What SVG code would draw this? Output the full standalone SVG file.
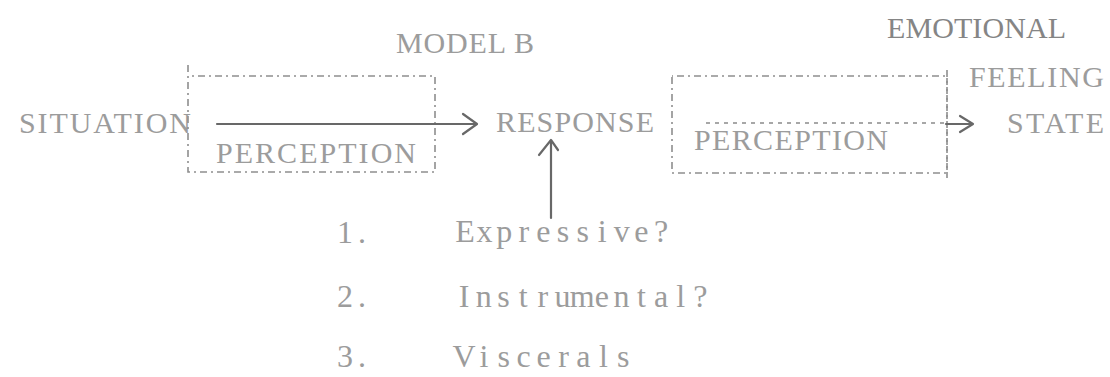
<svg xmlns="http://www.w3.org/2000/svg" width="1110" height="377" viewBox="0 0 1110 377">
  <defs>
    <style>
      .tw { font-family: "Liberation Serif", "DejaVu Serif", serif; font-size: 30px; fill: #9c9c9c; }
      .lc { font-size: 32px; }
      .dark { fill: #858585; }
      .box { fill: none; stroke: #8e8e8e; stroke-width: 1.6; stroke-dasharray: 7 4 2 4; }
      .edge { fill: none; stroke: #686868; stroke-width: 2.2; stroke-linecap: round; stroke-linejoin: round; }
      .dash { fill: none; stroke: #8a8a8a; stroke-width: 1.6; stroke-dasharray: 4 5; }
    </style>
  </defs>
  <rect width="1110" height="377" fill="#ffffff"/>

  <!-- title -->
  <g id="title">
    <text class="tw" x="396" y="53" textLength="138" lengthAdjust="spacing">MODEL B</text>
  </g>

  <!-- stimulus -->
  <g id="situation">
    <text class="tw" x="19" y="133" textLength="172" lengthAdjust="spacing">SITUATION</text>
  </g>

  <!-- first perception stage -->
  <g id="perception-1">
    <path class="box" d="M188,65 L188,172 L435,172 L435,76 L188,76"/>
    <text class="tw" x="216" y="163" textLength="200" lengthAdjust="spacing">PERCEPTION</text>
  </g>

  <!-- response -->
  <g id="response">
    <text class="tw" x="496" y="132" textLength="158" lengthAdjust="spacing">RESPONSE</text>
  </g>

  <!-- second perception stage -->
  <g id="perception-2">
    <path class="box" d="M672,77 L672,173 L947,173 L947,76 L672,76"/>
    <line x1="947" y1="70" x2="947" y2="178" class="box"/>
    <text class="tw" x="694" y="150" textLength="194" lengthAdjust="spacing">PERCEPTION</text>
  </g>

  <!-- outcome -->
  <g id="emotional-feeling-state">
    <text class="tw dark" x="887" y="38" textLength="179" lengthAdjust="spacing">EMOTIONAL</text>
    <text class="tw" x="969" y="87" textLength="135" lengthAdjust="spacing">FEELING</text>
    <text class="tw" x="1007" y="133" textLength="97" lengthAdjust="spacing">STATE</text>
  </g>

  <!-- response types: glyphs centred in fixed-pitch cells -->
  <g id="response-types">
    <text class="tw lc" x="337 358" y="243">1.</text>
    <text class="tw lc" x="455.2 476.6 496.2 518.5 536.3 556.8 576.4 597.8 613.8 634.3 653.9" y="242">Expressive?</text>
    <text class="tw lc" x="337 358" y="307">2.</text>
    <text class="tw lc" x="458.7 475.7 497.2 518.7 537.5 554.5 569.8 594.8 613.6 636.9 653.9 676.3 693.3" y="307">Instrumental?</text>
    <text class="tw lc" x="337 358" y="367">3.</text>
    <text class="tw lc" x="452.5 479.5 497.6 516.6 536.5 558.2 576.3 598.9 617.0" y="367">Viscerals</text>
  </g>

  <!-- connectors -->
  <g id="connectors">
    <!-- situation to response -->
    <line class="edge" x1="217" y1="124" x2="476" y2="124"/>
    <polyline class="edge" points="463,114 477,124 463,134"/>
    <!-- response types up to response -->
    <line class="edge" x1="551" y1="218" x2="551" y2="141" stroke-width="1.6"/>
    <polyline class="edge" points="539,155 551,140 558,150"/>
    <!-- response to feeling state (through perception) -->
    <line class="dash" x1="706" y1="123" x2="946" y2="123"/>
    <line class="edge" x1="946" y1="124" x2="972" y2="124"/>
    <polyline class="edge" points="960,116 973,124 960,132"/>
  </g>
</svg>
